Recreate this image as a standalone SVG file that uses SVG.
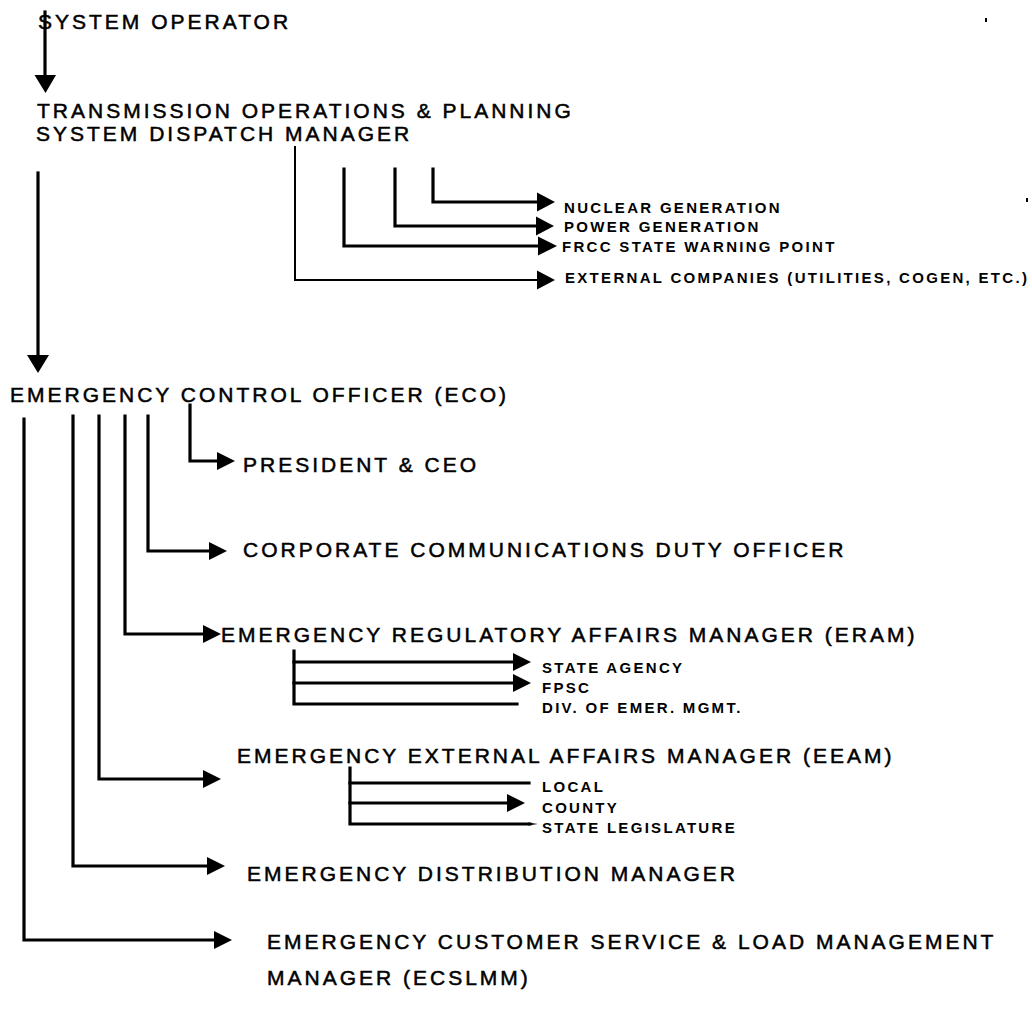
<svg xmlns="http://www.w3.org/2000/svg" width="1032" height="1010" viewBox="0 0 1032 1010">
<style>
.big{font-family:"Liberation Sans",Arial,sans-serif;font-size:21px;letter-spacing:3px;fill:#000;stroke:#000;stroke-width:0.5}
.sm{font-family:"Liberation Sans",Arial,sans-serif;font-size:15px;font-weight:bold;letter-spacing:2.3px;fill:#000}
.ln{fill:none;stroke:#000;stroke-width:3.2;stroke-linejoin:miter;stroke-linecap:square}
.thin{fill:none;stroke:#000;stroke-width:2}
.ah{fill:#000;stroke:none}
</style>
<rect width="1032" height="1010" fill="#fff"/>
<g id="connectors">
  <path class="ln" d="M45 12 V77"/>
  <polygon class="ah" points="34.5,75 56,75 45.5,93"/>
  <path class="ln" d="M38 173 V357"/>
  <polygon class="ah" points="27,355 49,355 38,373"/>
  <path class="thin" d="M295 146 V280 H539"/>
  <polygon class="ah" points="537,270.5 537,289.5 555,280"/>
  <path class="ln" d="M344 169 V246 H539"/>
  <polygon class="ah" points="538,236.5 538,255.5 557,246"/>
  <path class="ln" d="M395 169 V226 H538"/>
  <polygon class="ah" points="536,216.5 536,235.5 554,226"/>
  <path class="ln" d="M433 169 V202 H539"/>
  <polygon class="ah" points="537,192.5 537,211.5 555,202"/>

  <path class="ln" d="M24 419 V940 H215"/>
  <polygon class="ah" points="214,931 214,949 232,940"/>
  <path class="ln" d="M73 416 V866 H208"/>
  <polygon class="ah" points="207,857 207,875 225,866"/>
  <path class="ln" d="M99 416 V779 H204"/>
  <polygon class="ah" points="203,770 203,788 221,779"/>
  <path class="ln" d="M125 416 V634 H204"/>
  <polygon class="ah" points="203,625 203,643 221,634"/>
  <path class="ln" d="M148 416 V551 H210"/>
  <polygon class="ah" points="209,542 209,560 227,551"/>
  <path class="ln" d="M190 405 V461 H218"/>
  <polygon class="ah" points="217,452 217,470 235,461"/>

  <path class="ln" d="M294 651 V704 H517"/>
  <path class="ln" d="M294 662 H514"/>
  <polygon class="ah" points="513,653 513,671 531,662"/>
  <path class="ln" d="M294 683 H514"/>
  <polygon class="ah" points="513,674 513,692 531,683"/>

  <path class="ln" d="M350 768 V824 H530"/>
  <polygon class="ah" points="528,822.5 538,824 528,825.5"/>
  <path class="ln" d="M350 783 H529"/>
  <path class="ln" d="M350 803 H508"/>
  <polygon class="ah" points="507,794 507,812 525,803"/>
</g>

<g id="n-system-operator"><text class="big" x="38" y="29">SYSTEM OPERATOR</text></g>
<g id="n-transmission">
  <text class="big" x="37" y="118">TRANSMISSION OPERATIONS &amp; PLANNING</text>
  <text class="big" x="36" y="141">SYSTEM DISPATCH MANAGER</text>
</g>
<g id="n-nuclear"><text class="sm" x="564" y="213">NUCLEAR GENERATION</text></g>
<g id="n-power"><text class="sm" x="564" y="232">POWER GENERATION</text></g>
<g id="n-frcc"><text class="sm" x="562" y="252">FRCC STATE WARNING POINT</text></g>
<g id="n-external"><text class="sm" x="565" y="283">EXTERNAL COMPANIES (UTILITIES, COGEN, ETC.)</text></g>

<g id="n-eco"><text class="big" x="10" y="402">EMERGENCY CONTROL OFFICER (ECO)</text></g>
<g id="n-president"><text class="big" x="243" y="472">PRESIDENT &amp; CEO</text></g>
<g id="n-corporate"><text class="big" x="243" y="557">CORPORATE COMMUNICATIONS DUTY OFFICER</text></g>
<g id="n-eram"><text class="big" x="221" y="642">EMERGENCY REGULATORY AFFAIRS MANAGER (ERAM)</text></g>
<g id="n-state-agency"><text class="sm" x="542" y="673">STATE AGENCY</text></g>
<g id="n-fpsc"><text class="sm" x="542" y="693">FPSC</text></g>
<g id="n-div"><text class="sm" x="542" y="713">DIV. OF EMER. MGMT.</text></g>
<g id="n-eeam"><text class="big" x="237" y="763">EMERGENCY EXTERNAL AFFAIRS MANAGER (EEAM)</text></g>
<g id="n-local"><text class="sm" x="542" y="792">LOCAL</text></g>
<g id="n-county"><text class="sm" x="542" y="813">COUNTY</text></g>
<g id="n-state-leg"><text class="sm" x="542" y="833">STATE LEGISLATURE</text></g>
<g id="n-distribution"><text class="big" x="247" y="881">EMERGENCY DISTRIBUTION MANAGER</text></g>
<g id="n-ecslmm">
  <text class="big" x="267" y="949">EMERGENCY CUSTOMER SERVICE &amp; LOAD MANAGEMENT</text>
  <text class="big" x="267" y="985">MANAGER (ECSLMM)</text>
</g>
<g id="specks">
  <rect x="985" y="18" width="2" height="4" fill="#000"/>
  <rect x="1026" y="198" width="2" height="4" fill="#000"/>
</g>
</svg>
